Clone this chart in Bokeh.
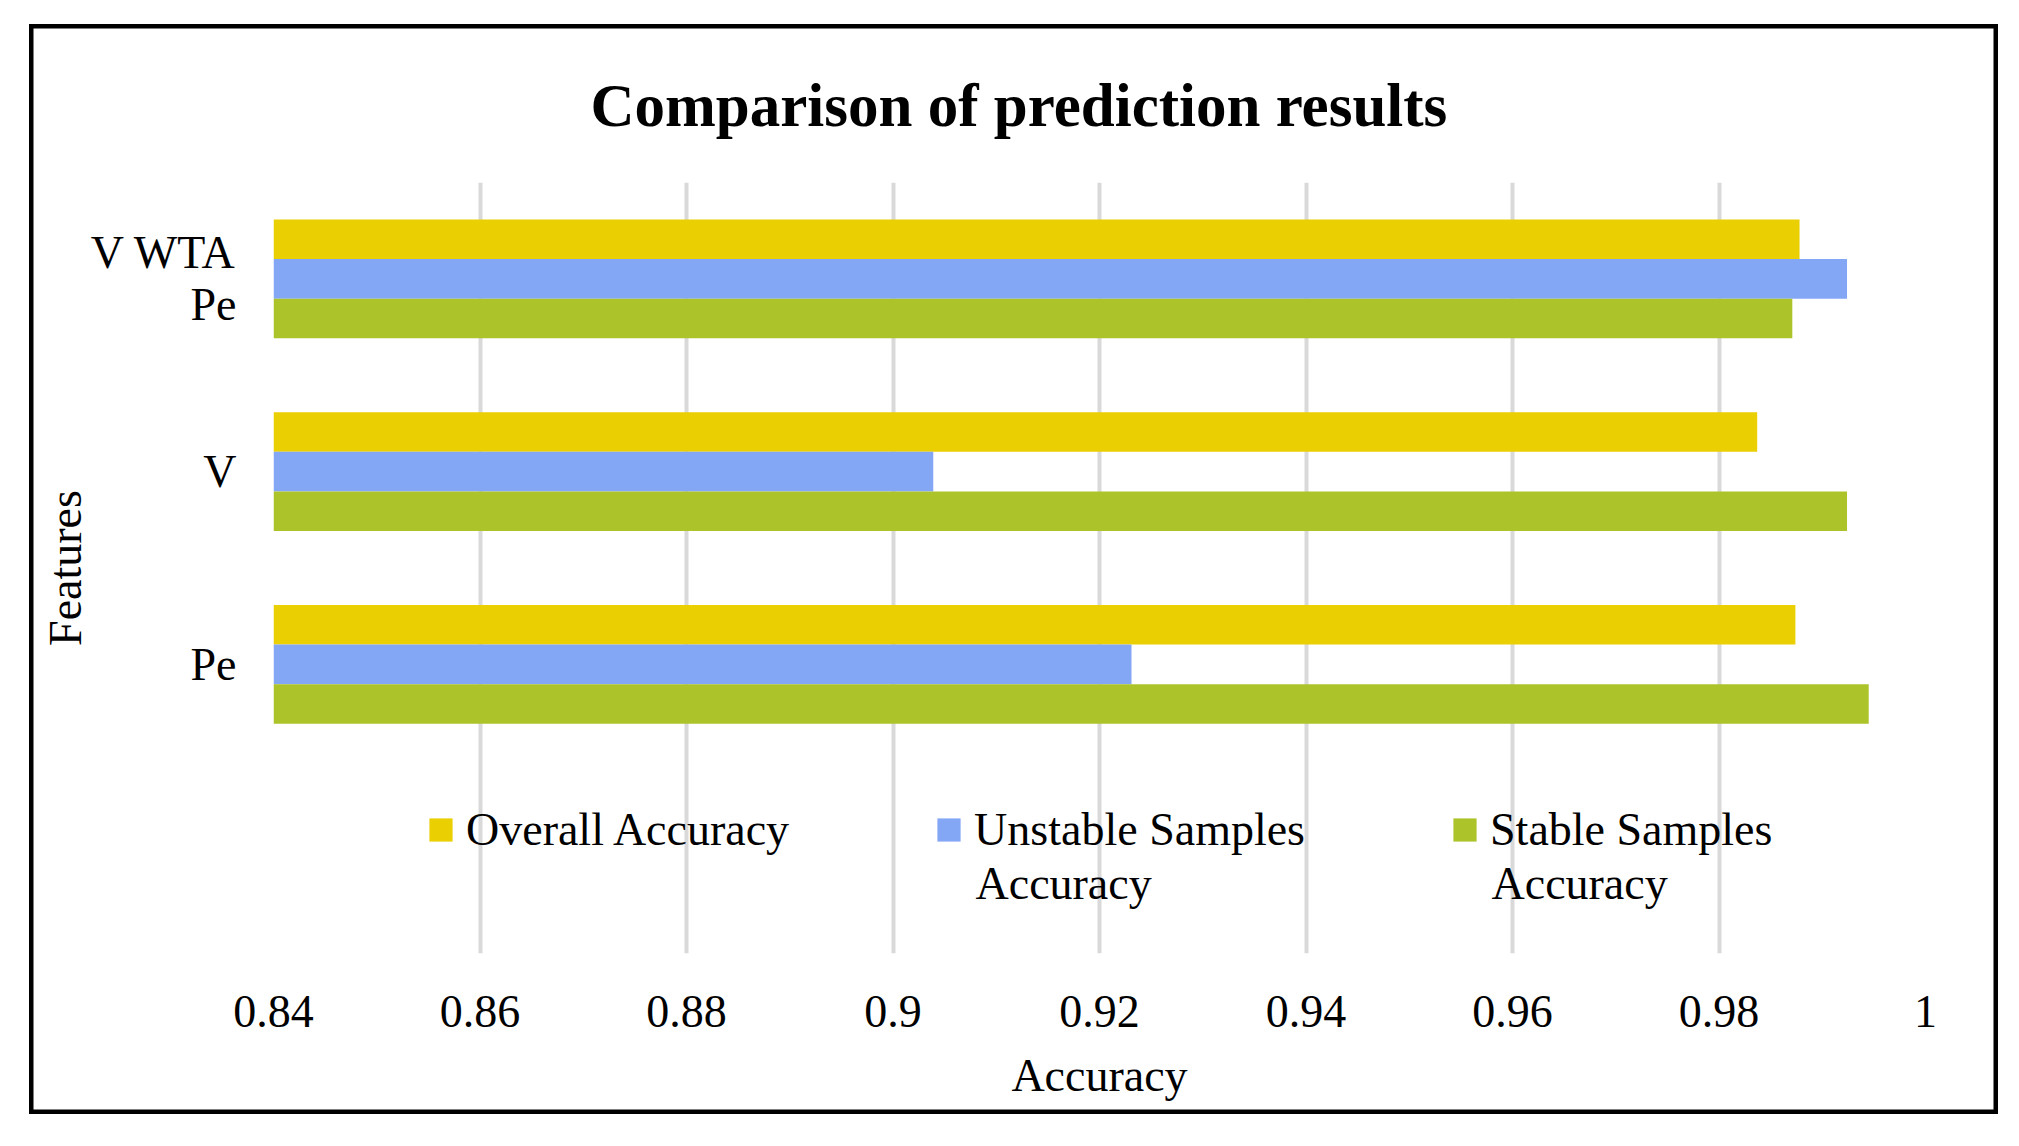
from bokeh.plotting import figure
from bokeh.models import (FixedTicker, Legend, LegendItem, Range1d, ColumnDataSource,
                          Title, Label)
from bokeh.transform import dodge
from bokeh.embed import file_html
from bokeh.resources import INLINE

# ---- data ----
categories = ["Pe", "V", "V WTA\nPe"]
overall_accuracy = [0.9874, 0.9837, 0.9878]
unstable_accuracy = [0.9231, 0.9039, 0.9924]
stable_accuracy = [0.9945, 0.9924, 0.9871]
series_first_lines = ["Overall Accuracy", "Unstable Samples", "Stable Samples"]
series_second_lines = ["", "Accuracy", "Accuracy"]
x_ticks = [0.84, 0.86, 0.88, 0.9, 0.92, 0.94, 0.96, 0.98, 1.0]
x_tick_labels = ["0.84", "0.86", "0.88", "0.9", "0.92", "0.94", "0.96", "0.98", "1"]
title_text = "Comparison of prediction results"
x_title = "Accuracy"
y_title = "Features"

# ---- style ----
colors = ["#EACF02", "#83A6F5", "#ADC32A"]
FONT = "Liberation Serif"
W, H = 1969, 1090
BAR_H = 0.2053
X0, X1 = 0.84, 1.0          # x range
FRAME_L, FRAME_R = 244, 1896  # frame edges on the canvas (px)
second_line_px = [None, 975 - 29, 1491 - 29]  # canvas x where 2nd legend lines start
SECOND_LINE_Y = -1.136      # data y of legend second line

src = ColumnDataSource(dict(
    y=list(range(len(categories))),
    overall=overall_accuracy,
    unstable=unstable_accuracy,
    stable=stable_accuracy,
))

p = figure(width=W, height=H, x_range=Range1d(X0, X1), y_range=Range1d(-1.5, 2.5),
           output_backend="svg", toolbar_location=None,
           min_border_left=FRAME_L, min_border_right=W - FRAME_R,
           min_border_top=158, min_border_bottom=H - 929)
p.margin = (24, 0, 0, 29)
p.styles = {"box-shadow": "inset 0 0 0 4.5px black",
            "outline": "4.5px solid black", "outline-offset": "-4.5px"}
p.outline_line_color = None
p.background_fill_color = "white"
p.border_fill_color = None

fields = ["overall", "unstable", "stable"]
offsets = [BAR_H, 0.0, -BAR_H]
renderers = []
for f, off, c in zip(fields, offsets, colors):
    r = p.hbar(y=dodge("y", off, range=p.y_range), left=X0, right=f, height=BAR_H,
               source=src, fill_color=c, line_color=None)
    renderers.append(r)

# grid
p.ygrid.grid_line_color = None
p.xgrid.grid_line_color = "#D9D9D9"
p.xgrid.grid_line_width = 4
p.xgrid.level = "underlay"

# x axis
p.xaxis.ticker = FixedTicker(ticks=x_ticks)
p.xaxis.major_label_overrides = dict(zip(x_ticks, x_tick_labels))
p.xaxis.axis_line_color = None
p.xaxis.major_tick_line_color = None
p.xaxis.minor_tick_line_color = None
p.xaxis.major_label_text_font = FONT
p.xaxis.major_label_text_font_size = "46px"
p.xaxis.major_label_text_color = "black"
p.xaxis.major_label_standoff = 36
p.xaxis.axis_label = x_title
p.xaxis.axis_label_text_font = FONT
p.xaxis.axis_label_text_font_size = "46px"
p.xaxis.axis_label_text_font_style = "normal"
p.xaxis.axis_label_text_color = "black"
p.xaxis.axis_label_standoff = 20

# y axis
p.yaxis.ticker = FixedTicker(ticks=list(range(len(categories))))
p.yaxis.major_label_overrides = {i: c for i, c in enumerate(categories)}
p.yaxis.axis_line_color = None
p.yaxis.major_tick_line_color = None
p.yaxis.minor_tick_line_color = None
p.yaxis.major_label_text_font = FONT
p.yaxis.major_label_text_font_size = "46px"
p.yaxis.major_label_text_color = "black"
p.yaxis.major_label_text_line_height = 1.02
p.yaxis.major_label_standoff = 31
p.yaxis.axis_label = y_title
p.yaxis.axis_label_text_font = FONT
p.yaxis.axis_label_text_font_size = "46px"
p.yaxis.axis_label_text_font_style = "normal"
p.yaxis.axis_label_text_color = "black"
p.yaxis.axis_label_standoff = -3

# legend (first lines with swatches)
items = [LegendItem(label=n, renderers=[r]) for n, r in zip(series_first_lines, renderers)]
legend = Legend(items=items, orientation="horizontal", location=(153, 97),
                background_fill_alpha=0, border_line_alpha=0, padding=0, margin=0,
                spacing=145, glyph_width=29, glyph_height=29, label_standoff=11,
                label_text_font=FONT, label_text_font_size="46px",
                label_text_line_height=1.15, label_text_color="black")
p.add_layout(legend, "center")

# legend second lines (wrapped text)
for txt, px in zip(series_second_lines, second_line_px):
    if not txt:
        continue
    xd = X0 + (px - FRAME_L) / (FRAME_R - FRAME_L) * (X1 - X0)
    p.add_layout(Label(x=xd, y=SECOND_LINE_Y, text=txt, text_font=FONT,
                       text_font_size="46px", text_align="left",
                       text_baseline="middle", text_color="black"))

# title
p.title = Title(text=title_text, text_font=FONT, text_font_style="bold",
                text_font_size="61px", align="left", offset=317, standoff=84,
                vertical_align="top", text_color="black")

open("out.html", "w").write(file_html(p, INLINE))
